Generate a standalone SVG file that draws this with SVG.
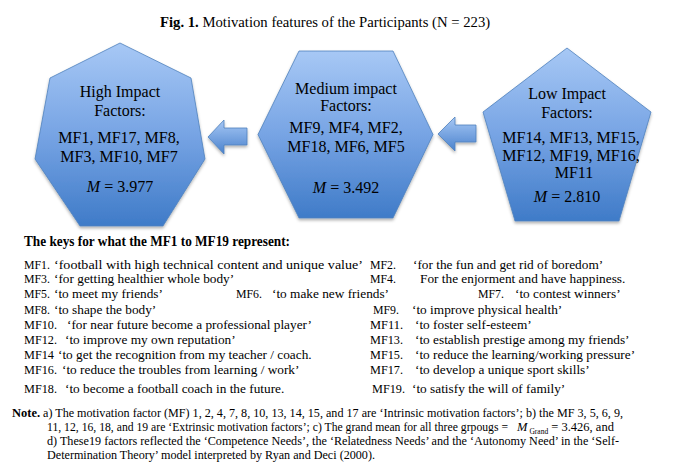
<svg xmlns="http://www.w3.org/2000/svg" width="673" height="467" viewBox="0 0 673 467">
<style>
.t{font-family:"Liberation Serif","Times New Roman",serif;fill:#000}
.n{font-size:16px;text-anchor:middle}
.k{font-size:13.3px}
.nt{font-size:12.5px}
.shape{fill:url(#g);stroke:#4f81bd;stroke-width:0.8;filter:url(#sh)}
.arr{fill:url(#ga);stroke:#4f81bd;stroke-width:0.8;filter:url(#sh)}
</style>
<defs>
<linearGradient id="g" x1="0" y1="0" x2="0" y2="1">
<stop offset="0" stop-color="#a7c8f5"/>
<stop offset="0.5" stop-color="#77a4e4"/>
<stop offset="1" stop-color="#3f7bc8"/>
</linearGradient>
<linearGradient id="ga" x1="0" y1="0" x2="0" y2="1">
<stop offset="0" stop-color="#a7c8f5"/>
<stop offset="1" stop-color="#4a82cd"/>
</linearGradient>
<filter id="sh" x="-10%" y="-10%" width="120%" height="125%">
<feDropShadow dx="0" dy="2" stdDeviation="1.5" flood-color="#000" flood-opacity="0.3"/>
</filter>
</defs>
<rect width="673" height="467" fill="#fff"/>
<text class="t" x="160" y="26.5" font-size="14.7"><tspan font-weight="bold">Fig. 1.</tspan> Motivation features of the Participants (N = 223)</text>

<g id="connectors">
<path class="arr" d="M208,137 L224,120 L224,128 L247,128 L247,145 L224,145 L224,154 Z"/>
<path class="arr" d="M438,134 L455,117 L455,125 L476,125 L476,142 L455,142 L455,151 Z"/>
</g>

<g id="high">
<polygon class="shape" points="120,43 191,78 205,159 163,226 80,226 35,159 50,78"/>
<text class="t n" x="120" y="97">High Impact</text>
<text class="t n" x="120" y="116">Factors:</text>
<text class="t n" x="119" y="142.5">MF1, MF17, MF8,</text>
<text class="t n" x="119" y="161.5">MF3, MF10, MF7</text>
<text class="t n" x="120" y="191.5"><tspan font-style="italic">M</tspan> = 3.977</text>
</g>

<g id="medium">
<polygon class="shape" points="299,51 393,51 433,134.5 393,218 299,218 258,134.5"/>
<text class="t n" x="346" y="94">Medium impact</text>
<text class="t n" x="346" y="111">Factors:</text>
<text class="t n" x="346" y="132.5">MF9, MF4, MF2,</text>
<text class="t n" x="346" y="151.5">MF18, MF6, MF5</text>
<text class="t n" x="346" y="193"><tspan font-style="italic">M</tspan> = 3.492</text>
</g>

<g id="low">
<polygon class="shape" points="567,48 651,112 619,221 515,221 483,112"/>
<text class="t n" x="567" y="99">Low Impact</text>
<text class="t n" x="567" y="118">Factors:</text>
<text class="t n" x="571" y="143" font-size="14.8">MF14, MF13, MF15,</text>
<text class="t n" x="571" y="161" font-size="14.8">MF12, MF19, MF16,</text>
<text class="t n" x="574" y="178" font-size="14.8">MF11</text>
<text class="t n" x="567" y="201.5"><tspan font-style="italic">M</tspan> = 2.810</text>
</g>

<g id="keys">
<text class="t" x="24" y="245.5" font-size="14" font-weight="bold" textLength="266" lengthAdjust="spacingAndGlyphs">The keys for what the MF1 to MF19 represent:</text>
<g class="t k">
<text x="24" y="269" textLength="26" lengthAdjust="spacingAndGlyphs">MF1.</text>
<text x="54" y="269" textLength="309" lengthAdjust="spacingAndGlyphs">‘football with high technical content and unique value’</text>
<text x="370" y="269" textLength="26" lengthAdjust="spacingAndGlyphs">MF2.</text>
<text x="413" y="269">‘for the fun and get rid of boredom’</text>

<text x="24" y="283" textLength="26" lengthAdjust="spacingAndGlyphs">MF3.</text>
<text x="54" y="283">‘for getting healthier whole body’</text>
<text x="370" y="283" textLength="26" lengthAdjust="spacingAndGlyphs">MF4.</text>
<text x="420" y="283">For the enjorment and have happiness.</text>

<text x="24" y="298" textLength="26" lengthAdjust="spacingAndGlyphs">MF5.</text>
<text x="54" y="298">‘to meet my friends’</text>
<text x="236" y="298" textLength="26" lengthAdjust="spacingAndGlyphs">MF6.</text>
<text x="272" y="298">‘to make new friends’</text>
<text x="478" y="298" textLength="26" lengthAdjust="spacingAndGlyphs">MF7.</text>
<text x="515" y="298">‘to contest winners’</text>

<text x="24" y="314" textLength="26" lengthAdjust="spacingAndGlyphs">MF8.</text>
<text x="54" y="314">‘to shape the body’</text>
<text x="373" y="314" textLength="26" lengthAdjust="spacingAndGlyphs">MF9.</text>
<text x="412" y="314">‘to improve physical health’</text>

<text x="24" y="329" textLength="33" lengthAdjust="spacingAndGlyphs">MF10.</text>
<text x="67" y="329">‘for near future become a professional player’</text>
<text x="370" y="329" textLength="33" lengthAdjust="spacingAndGlyphs">MF11.</text>
<text x="415" y="329">‘to foster self-esteem’</text>

<text x="24" y="344" textLength="33" lengthAdjust="spacingAndGlyphs">MF12.</text>
<text x="65" y="344">‘to improve my own reputation’</text>
<text x="370" y="344" textLength="33" lengthAdjust="spacingAndGlyphs">MF13.</text>
<text x="415" y="344">‘to establish prestige among my friends’</text>

<text x="24" y="359" textLength="30" lengthAdjust="spacingAndGlyphs">MF14</text>
<text x="58" y="359">‘to get the recognition from my teacher / coach.</text>
<text x="370" y="359" textLength="33" lengthAdjust="spacingAndGlyphs">MF15.</text>
<text x="415" y="359">‘to reduce the learning/working pressure’</text>

<text x="24" y="374" textLength="33" lengthAdjust="spacingAndGlyphs">MF16.</text>
<text x="62" y="374">‘to reduce the troubles from learning / work’</text>
<text x="370" y="374" textLength="33" lengthAdjust="spacingAndGlyphs">MF17.</text>
<text x="415" y="374">‘to develop a unique sport skills’</text>

<text x="24" y="393" textLength="33" lengthAdjust="spacingAndGlyphs">MF18.</text>
<text x="65" y="393">‘to become a football coach in the future.</text>
<text x="372" y="393" textLength="33" lengthAdjust="spacingAndGlyphs">MF19.</text>
<text x="412" y="393">‘to satisfy the will of family’</text>
</g>
</g>

<g id="note" class="t nt">
<text x="12" y="417" font-weight="bold">Note.</text>
<text x="43" y="417" textLength="580" lengthAdjust="spacingAndGlyphs">a) The motivation factor (MF) 1, 2, 4, 7, 8, 10, 13, 14, 15,  and 17 are ‘Intrinsic  motivation factors’; b) the MF 3, 5, 6, 9,</text>
<text x="47" y="431" textLength="461" lengthAdjust="spacingAndGlyphs">11, 12, 16, 18,  and 19  are ‘Extrinsic motivation factors’; c) The grand mean for all three grpougs =</text>
<text x="517" y="431"><tspan font-style="italic">M</tspan><tspan font-size="7.5" dx="2" dy="2.5">Grand</tspan><tspan dy="-2.5"> = 3.426, and</tspan></text>
<text x="47" y="445" textLength="572" lengthAdjust="spacingAndGlyphs">d) These19 factors reflected the ‘Competence Needs’, the ‘Relatedness Needs’ and the ‘Autonomy Need’ in the ‘Self-</text>
<text x="47" y="459" textLength="328" lengthAdjust="spacingAndGlyphs">Determination Theory’ model interpreted by Ryan and Deci (2000).</text>
</g>
</svg>
